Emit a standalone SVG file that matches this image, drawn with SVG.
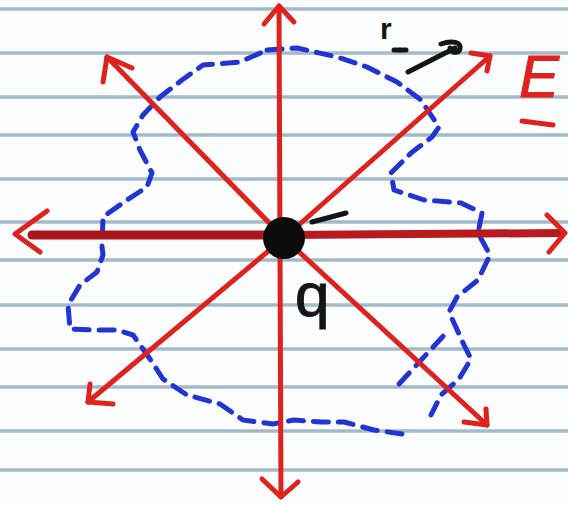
<svg xmlns="http://www.w3.org/2000/svg" width="568" height="505" viewBox="0 0 568 505">
<style>
.rule{stroke:#a3bac9;stroke-width:3.5}
.red{stroke:#e0221f;stroke-width:5;fill:none;stroke-linecap:round;stroke-linejoin:round}
.blue{stroke:#2234d4;stroke-width:5;fill:none;stroke-linecap:round;stroke-linejoin:round;stroke-dasharray:15 10}
.ink{stroke:#151515;stroke-width:5;fill:none;stroke-linecap:round;stroke-linejoin:round}
</style>
<rect width="568" height="505" fill="#fcfdff"/>
<g id="paper">
<line class="rule" x1="0" y1="9" x2="568" y2="9"/>
<line class="rule" x1="0" y1="53" x2="568" y2="53"/>
<line class="rule" x1="0" y1="97" x2="568" y2="97"/>
<line class="rule" x1="0" y1="135" x2="568" y2="135"/>
<line class="rule" x1="0" y1="179" x2="568" y2="179"/>
<line class="rule" x1="0" y1="222" x2="568" y2="222"/>
<line class="rule" x1="0" y1="260" x2="568" y2="260"/>
<line class="rule" x1="0" y1="305" x2="568" y2="305"/>
<line class="rule" x1="0" y1="349" x2="568" y2="349"/>
<line class="rule" x1="0" y1="387" x2="568" y2="387"/>
<line class="rule" x1="0" y1="431" x2="568" y2="431"/>
<line class="rule" x1="0" y1="470" x2="568" y2="470"/>
</g>
<g id="surface">
<polyline class="blue" points="267,50 297,48 337,57 367,67 397,82 421,100 439,127 432,137 411,153 391,173 394,190 424,200 461,203 482,213 478,233 490,255 478,280 457,297 449,312 464,345 471,359 459,379 441,395 431,415"/>
<line class="blue" x1="399" y1="384" x2="447" y2="332"/>
<polyline class="blue" points="402,434 374,430 344,422 321,422 294,420 273,424 243,420 220,404 187,395 163,379 150,359 133,335 117,330 93,330 70,329 68,305 80,285 97,272 103,255 102,247 103,217 127,200 147,187 152,173 140,150 133,132 143,115 160,97 182,80 203,65 240,62 267,50"/>
</g>
<g id="field">
<line class="red" x1="279" y1="6" x2="281" y2="497"/>
<polyline class="red" points="264,24 279,6 294,22"/>
<polyline class="red" points="262,479 281,497 298,482"/>
<line class="red" x1="284" y1="238" x2="107" y2="57"/>
<polyline class="red" points="103,82 107,57 132,68"/>
<line class="red" x1="284" y1="238" x2="490" y2="56"/>
<polyline class="red" points="471,53 490,56 487,71"/>
<line class="red" x1="284" y1="238" x2="88" y2="402"/>
<polyline class="red" points="90,384 88,402 113,404"/>
<line class="red" x1="284" y1="238" x2="487" y2="425"/>
<polyline class="red" points="464,422 487,425 486,409"/>
<line x1="32" y1="235" x2="284" y2="235" stroke="#a8161b" stroke-width="9" stroke-linecap="round"/>
<line x1="284" y1="235" x2="562" y2="233" stroke="#b81a1e" stroke-width="8" stroke-linecap="round"/>
<polyline class="red" points="47,211 15,234 40,252"/>
<polyline class="red" points="547,215 565,233 549,252"/>
</g>
<g id="charge">
<circle cx="284" cy="238" r="21" fill="#0b0b0b"/>
<line class="ink" x1="312" y1="222" x2="346" y2="213"/>
<text x="295" y="316" font-family="Liberation Sans, sans-serif" font-size="62" fill="#151515" stroke="#151515" stroke-width="1">q</text>
</g>
<g id="labels">
<text x="380" y="39" font-family="Liberation Sans, sans-serif" font-size="30" font-weight="bold" fill="#151515">r</text>
<line class="ink" x1="394" y1="50" x2="406" y2="50"/>
<line class="ink" x1="408" y1="72" x2="455" y2="48"/>
<path class="ink" d="M441,44 C452,40 462,42 460,49 C458,54 450,53 450,48"/>
<text x="519" y="97" font-family="Liberation Sans, sans-serif" font-size="60" font-style="italic" fill="#e0221f" stroke="#e0221f" stroke-width="1">E</text>
<line class="red" x1="522" y1="121" x2="553" y2="125"/>
</g>
</svg>
